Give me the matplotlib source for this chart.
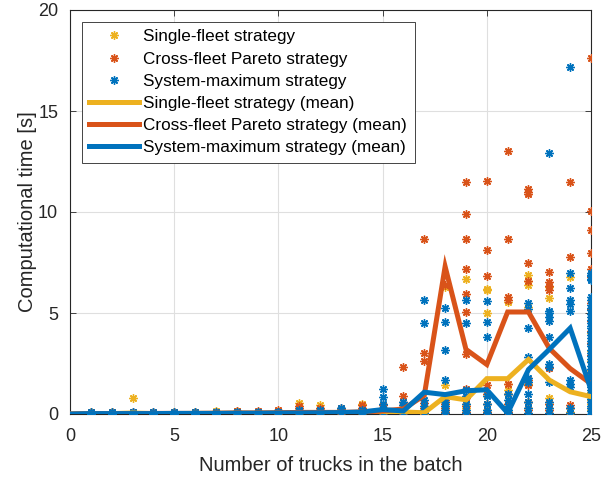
import matplotlib
matplotlib.use("Agg")
import matplotlib.pyplot as plt
from matplotlib.lines import Line2D

plt.rcParams['font.family'] = ['Liberation Sans', 'DejaVu Sans']

# ---------------- data ----------------
trucks = list(range(0, 26))

# mean computational time per batch size (0..25)
single_mean = [0.0, 0.02, 0.02, 0.05, 0.02, 0.02, 0.03, 0.03, 0.04, 0.04, 0.05,
               0.07, 0.07, 0.06, 0.08, 0.1, 0.1, 0.06, 0.86, 0.7, 1.75,
               1.75, 2.7, 1.68, 1.1, 0.86]
pareto_mean = [0.0, 0.02, 0.02, 0.02, 0.03, 0.03, 0.03, 0.04, 0.05, 0.05, 0.06,
               0.08, 0.08, 0.08, 0.1, 0.15, 0.25, 0.92, 7.3, 3.2, 2.45,
               5.05, 5.05, 3.25, 2.25, 1.5]
sysmax_mean = [0.0, 0.02, 0.02, 0.02, 0.02, 0.03, 0.03, 0.03, 0.04, 0.04, 0.05,
               0.05, 0.06, 0.07, 0.1, 0.22, 0.15, 1.08, 0.96, 1.15, 1.2,
               0.05, 2.2, 3.2, 4.25, 1.2]

# individual runs, indexed by batch size 1..25
single_runs = [
    [0.02, 0.04, 0.08], [0.02, 0.05, 0.09], [0.02, 0.05, 0.81],
    [0.02, 0.04, 0.06], [0.02, 0.05, 0.08], [0.03, 0.06, 0.1],
    [0.03, 0.08, 0.14], [0.03, 0.1, 0.16], [0.04, 0.08, 0.12],
    [0.04, 0.1, 0.15], [0.05, 0.2, 0.56], [0.05, 0.2, 0.45],
    [0.05, 0.15, 0.25], [0.05, 0.2, 0.5], [0.05, 0.1, 0.3],
    [0.03, 0.1, 0.3], [0.02, 0.05, 0.12],
    [0.1, 0.3, 0.6, 1.44, 6.3],
    [0.1, 0.3, 0.5, 6.68],
    [0.2, 0.5, 1.0, 4.98, 6.14, 6.2],
    [0.2, 0.5, 1.0, 1.2, 1.5, 5.56],
    [0.3, 0.6, 1.5, 5.3, 6.4, 6.6, 6.9],
    [0.2, 0.5, 0.77, 5.73, 6.3],
    [0.1, 0.3, 6.77],
    [0.2, 0.5, 1.1, 1.6, 2.2, 3.1, 4.0, 0.7, 2.6],
]
pareto_runs = [
    [0.02, 0.05, 0.1], [0.02, 0.05, 0.1], [0.02, 0.06, 0.1],
    [0.02, 0.05, 0.1], [0.03, 0.06, 0.1], [0.03, 0.06, 0.12],
    [0.03, 0.07, 0.12], [0.04, 0.08, 0.14], [0.04, 0.09, 0.15],
    [0.05, 0.1, 0.18], [0.1, 0.3, 0.4], [0.1, 0.2, 0.3],
    [0.1, 0.2, 0.3], [0.1, 0.3, 0.45], [0.1, 0.3, 0.45],
    [0.1, 0.45, 0.6, 0.89, 2.34],
    [0.1, 0.29, 0.53, 2.62, 3.03, 8.65],
    [0.1, 0.3, 0.5, 0.7, 6.39],
    [0.1, 0.4, 0.8, 1.22, 2.97, 5.03, 5.94, 7.18, 8.66, 9.9, 11.47],
    [0.1, 0.5, 0.98, 1.44, 6.85, 8.12, 11.55],
    [0.1, 0.5, 1.0, 1.5, 5.64, 5.8, 8.66, 13.0],
    [0.2, 0.6, 1.44, 1.68, 6.6, 7.46, 10.88, 10.97, 11.14],
    [0.2, 0.5, 2.27, 2.34, 6.14, 6.33, 6.55, 7.05],
    [0.05, 0.3, 0.45, 7.79, 11.5],
    [0.3, 1.0, 2.1, 2.9, 4.1, 5.5, 7.18, 7.96, 9.1, 10.06, 17.6,
     0.6, 1.6, 3.5, 4.6, 5.2, 6.8],
]
sysmax_runs = [
    [0.02, 0.05, 0.08], [0.02, 0.05, 0.08], [0.02, 0.05, 0.08],
    [0.02, 0.05, 0.08], [0.02, 0.05, 0.08], [0.02, 0.06, 0.09],
    [0.02, 0.06, 0.1], [0.03, 0.07, 0.1], [0.03, 0.07, 0.11],
    [0.03, 0.08, 0.12], [0.05, 0.1, 0.2], [0.05, 0.1, 0.2],
    [0.05, 0.2, 0.3], [0.05, 0.1, 0.2],
    [0.05, 0.2, 0.5, 0.86, 1.22],
    [0.05, 0.2, 0.45, 0.6],
    [0.05, 0.2, 0.4, 0.7, 4.49, 5.64],
    [0.05, 0.2, 0.4, 0.6, 1.68, 3.17, 4.57, 5.23],
    [0.05, 0.2, 0.5, 0.9, 1.19, 4.49, 5.64],
    [0.05, 0.2, 0.5, 0.9, 3.83, 4.57, 5.61],
    [0.05, 0.2, 0.4, 0.7, 1.0],
    [0.05, 0.3, 0.6, 1.0, 1.6, 1.77, 2.84, 4.26, 5.2, 5.5],
    [0.05, 0.3, 0.6, 1.6, 2.34, 2.5, 3.83, 4.6, 4.8, 5.0, 5.1, 12.9],
    [0.05, 0.3, 1.35, 1.5, 1.68, 5.1, 5.43, 5.64, 6.22, 7.0, 17.2],
    [0.0, 0.15, 0.3, 0.42, 0.6, 0.73, 0.83, 0.95, 1.05, 1.2, 1.33, 1.47,
     1.62, 1.8, 1.93, 2.05, 2.22, 2.4, 2.55, 2.72, 2.86, 3.0, 3.18, 3.35,
     3.48, 3.6, 3.75, 3.9, 4.07, 4.25, 4.38, 4.5, 4.66, 4.8, 4.97, 5.15,
     5.27, 5.4, 5.62, 5.8, 6.62, 6.7, 6.82, 6.9, 7.0],
]

labels = ["Single-fleet strategy", "Cross-fleet Pareto strategy",
          "System-maximum strategy"]
colors = ["#EDB120", "#D95319", "#0072BD"]

# ---------------- plot ----------------
fig = plt.figure(figsize=(6.13, 4.80), dpi=100)
ax = fig.add_axes([70 / 613, 1 - 414 / 480, 521 / 613, 404 / 480])

star = (8, 2, 0)
msize = 6
mew = 1.0
for runs, col in zip([single_runs, pareto_runs, sysmax_runs], colors):
    xs, ys = [], []
    for k, vals in enumerate(runs, start=1):
        xs.extend([k] * len(vals))
        ys.extend(vals)
    ax.plot(xs, ys, linestyle='none', marker=star, markersize=msize,
            markeredgewidth=mew, color=col, zorder=3)

for means, col in zip([single_mean, pareto_mean, sysmax_mean], colors):
    ax.plot(trucks, means, color=col, linewidth=3.6, zorder=4,
            solid_joinstyle='miter')

ax.set_xlim(0, 25)
ax.set_ylim(0, 20)
ax.set_xticks([0, 5, 10, 15, 20, 25])
ax.set_yticks([0, 5, 10, 15, 20])
ax.tick_params(direction='in', length=4, width=0.6, top=True, right=True,
               labelsize=13, colors='#262626')
ax.tick_params(axis='x', pad=10)
ax.tick_params(axis='y', pad=8.5)
ax.grid(True, color='#DFDFDF', linewidth=0.8)
ax.set_axisbelow(True)
for s in ax.spines.values():
    s.set_color('#262626')
    s.set_linewidth(0.8)

ax.set_xlabel("Number of trucks in the batch", fontsize=14.5, color='#262626',
              labelpad=8)
ax.set_ylabel("Computational time [s]", fontsize=14.5, color='#262626',
              labelpad=1)

handles = [Line2D([], [], linestyle='none', marker=star, markersize=msize,
                  markeredgewidth=mew, color=c) for c in colors]
handles += [Line2D([], [], color=c, linewidth=3.6) for c in colors]
leg_labels = labels + [l + " (mean)" for l in labels]
leg = ax.legend(handles, leg_labels, loc='upper left',
                bbox_to_anchor=(0.0225, 0.971), borderaxespad=0,
                fontsize=12.3, handlelength=2.9, handletextpad=0.25,
                labelspacing=0.42, borderpad=0.45, fancybox=False,
                framealpha=1, edgecolor='#262626', numpoints=1)
leg.get_frame().set_linewidth(0.6)
leg.set_zorder(5)

fig.savefig("out.png", dpi=100)
